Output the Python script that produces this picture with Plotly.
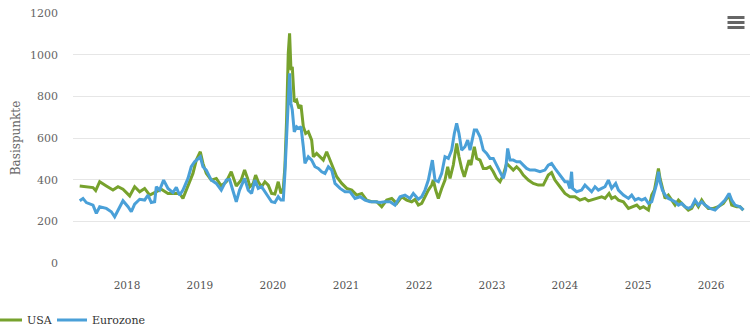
import datetime as dt
import plotly.graph_objects as go

# ---- data (decimal years, basis points) ----
usa_t = [2017.352, 2017.443, 2017.534, 2017.571, 2017.626, 2017.717, 2017.808, 2017.877, 2017.945,
         2018.037, 2018.105, 2018.174, 2018.242, 2018.311, 2018.402, 2018.470, 2018.562, 2018.630,
         2018.721, 2018.767, 2018.836, 2018.904, 2018.950, 2019.005, 2019.041, 2019.087, 2019.155,
         2019.224, 2019.292, 2019.361, 2019.429, 2019.498, 2019.566, 2019.612, 2019.653, 2019.685,
         2019.731, 2019.763, 2019.799, 2019.845, 2019.890, 2019.936, 2019.982, 2020.027, 2020.073,
         2020.110, 2020.142, 2020.164, 2020.187, 2020.210, 2020.228, 2020.247, 2020.265, 2020.292,
         2020.324, 2020.356, 2020.384, 2020.416, 2020.448, 2020.484, 2020.530, 2020.553, 2020.598,
         2020.644, 2020.689, 2020.735, 2020.781, 2020.826, 2020.872, 2020.941, 2021.009, 2021.078,
         2021.146, 2021.215, 2021.283, 2021.352, 2021.420, 2021.489, 2021.557, 2021.626, 2021.694,
         2021.763, 2021.831, 2021.900, 2021.945, 2021.991, 2022.037, 2022.082, 2022.128, 2022.174,
         2022.196, 2022.228, 2022.265, 2022.311, 2022.356, 2022.393, 2022.425, 2022.470, 2022.516,
         2022.548, 2022.584, 2022.621, 2022.653, 2022.685, 2022.712, 2022.758, 2022.790, 2022.836,
         2022.881, 2022.927, 2022.973, 2023.018, 2023.064, 2023.110, 2023.155, 2023.201, 2023.247,
         2023.292, 2023.338, 2023.384, 2023.429, 2023.498, 2023.566, 2023.635, 2023.703, 2023.772,
         2023.817, 2023.863, 2023.932, 2024.000, 2024.068, 2024.137, 2024.205, 2024.274, 2024.320,
         2024.365, 2024.434, 2024.502, 2024.548, 2024.603, 2024.639, 2024.685, 2024.731, 2024.799,
         2024.868, 2024.936, 2024.982, 2025.027, 2025.073, 2025.142, 2025.187, 2025.224, 2025.256,
         2025.279, 2025.301, 2025.333, 2025.370, 2025.415, 2025.461, 2025.507, 2025.553, 2025.598,
         2025.644, 2025.689, 2025.735, 2025.781, 2025.826, 2025.872, 2025.918, 2025.963, 2026.032,
         2026.100, 2026.169, 2026.215, 2026.247, 2026.283, 2026.352, 2026.397, 2026.443]
usa_v = [370, 365, 362, 348, 390, 370, 350, 366, 354,
         322, 366, 342, 358, 326, 342, 354, 334, 334,
         334, 310, 366, 430, 494, 534, 478, 430, 398,
         406, 370, 390, 438, 370, 398, 446, 406, 366,
         382, 422, 390, 366, 390, 374, 334, 331, 390,
         334, 358, 462, 686, 1006, 1102, 926, 942, 774,
         782, 742, 758, 654, 622, 630, 590, 510, 526,
         510, 494, 534, 494, 462, 414, 382, 358, 350,
         326, 334, 302, 294, 294, 270, 302, 310, 286,
         318, 302, 294, 305, 278, 286, 318, 350, 374,
         398, 350, 310, 358, 398, 462, 406, 470, 574,
         510, 454, 414, 462, 494, 470, 558, 502, 494,
         454, 454, 462, 438, 406, 390, 422, 478, 462,
         446, 462, 446, 422, 398, 382, 374, 374, 422,
         434, 398, 366, 334, 318, 318, 302, 310, 298,
         302, 310, 318, 310, 334, 310, 318, 302, 294,
         262, 270, 278, 262, 270, 254, 326, 350, 414,
         454, 406, 358, 310, 326, 302, 278, 302, 286,
         270, 254, 262, 294, 270, 302, 278, 262, 262,
         270, 286, 310, 326, 278, 270, 270, 254]

eur_t = [2017.352, 2017.397, 2017.443, 2017.534, 2017.580, 2017.626, 2017.717, 2017.785, 2017.831,
         2017.877, 2017.945, 2018.014, 2018.059, 2018.105, 2018.174, 2018.242, 2018.288, 2018.333,
         2018.379, 2018.402, 2018.447, 2018.502, 2018.562, 2018.630, 2018.676, 2018.721, 2018.767,
         2018.836, 2018.881, 2018.927, 2018.973, 2019.005, 2019.041, 2019.087, 2019.155, 2019.224,
         2019.292, 2019.361, 2019.406, 2019.452, 2019.498, 2019.543, 2019.612, 2019.662, 2019.708,
         2019.753, 2019.799, 2019.845, 2019.890, 2019.936, 2019.982, 2020.027, 2020.073, 2020.110,
         2020.142, 2020.164, 2020.187, 2020.210, 2020.228, 2020.247, 2020.265, 2020.292, 2020.324,
         2020.356, 2020.384, 2020.416, 2020.438, 2020.484, 2020.530, 2020.575, 2020.621, 2020.667,
         2020.712, 2020.758, 2020.804, 2020.849, 2020.918, 2020.986, 2021.055, 2021.123, 2021.192,
         2021.260, 2021.329, 2021.397, 2021.466, 2021.534, 2021.603, 2021.671, 2021.740, 2021.808,
         2021.877, 2021.922, 2021.991, 2022.037, 2022.082, 2022.128, 2022.183, 2022.219, 2022.265,
         2022.311, 2022.356, 2022.402, 2022.448, 2022.484, 2022.516, 2022.548, 2022.584, 2022.630,
         2022.667, 2022.699, 2022.758, 2022.790, 2022.836, 2022.881, 2022.927, 2022.973, 2023.018,
         2023.064, 2023.110, 2023.155, 2023.187, 2023.215, 2023.247, 2023.292, 2023.338, 2023.384,
         2023.429, 2023.475, 2023.521, 2023.589, 2023.658, 2023.726, 2023.772, 2023.817, 2023.863,
         2023.932, 2024.000, 2024.037, 2024.068, 2024.091, 2024.105, 2024.160, 2024.228, 2024.274,
         2024.320, 2024.365, 2024.411, 2024.457, 2024.502, 2024.548, 2024.594, 2024.639, 2024.694,
         2024.731, 2024.799, 2024.868, 2024.913, 2024.959, 2025.005, 2025.050, 2025.096, 2025.142,
         2025.187, 2025.233, 2025.256, 2025.279, 2025.301, 2025.333, 2025.370, 2025.415, 2025.461,
         2025.507, 2025.553, 2025.598, 2025.644, 2025.689, 2025.735, 2025.781, 2025.826, 2025.872,
         2025.918, 2025.986, 2026.055, 2026.100, 2026.146, 2026.192, 2026.247, 2026.283, 2026.329,
         2026.397, 2026.443]
eur_v = [299, 310, 290, 278, 238, 270, 262, 246, 222,
         254, 299, 270, 246, 283, 306, 302, 326, 290,
         294, 366, 350, 398, 358, 338, 363, 326, 350,
         406, 462, 486, 502, 510, 462, 446, 398, 382,
         350, 398, 401, 350, 294, 350, 406, 350, 334,
         398, 358, 366, 342, 318, 294, 290, 318, 302,
         302, 430, 606, 846, 910, 766, 734, 630, 654,
         646, 654, 558, 478, 510, 494, 462, 454, 438,
         430, 462, 446, 382, 358, 342, 342, 310, 318,
         302, 294, 294, 290, 294, 294, 278, 318, 326,
         310, 334, 306, 318, 350, 398, 494, 398, 390,
         430, 510, 502, 542, 622, 670, 622, 542, 558,
         590, 542, 638, 638, 606, 542, 526, 502, 502,
         470, 438, 406, 446, 550, 494, 494, 486, 486,
         470, 454, 446, 446, 438, 446, 470, 478, 454,
         422, 390, 390, 358, 438, 358, 342, 350, 374,
         358, 342, 366, 350, 358, 366, 398, 358, 382,
         350, 326, 310, 326, 302, 310, 302, 310, 286,
         294, 350, 382, 438, 390, 350, 326, 310, 302,
         294, 278, 286, 270, 262, 270, 302, 278, 294,
         278, 262, 254, 270, 286, 302, 334, 302, 278,
         270, 254]

x_range_years = [2017.260, 2026.534]
y_ticks = [0, 200, 400, 600, 800, 1000, 1200]
series_names = ["USA", "Eurozone"]
series_colors = ["#77a22d", "#4aa0d8"]


def to_date(y):
    year = int(y)
    start = dt.datetime(year, 1, 1)
    end = dt.datetime(year + 1, 1, 1)
    return start + (end - start) * (y - year)


FONT = "DejaVu Serif"
fig = go.Figure()
for name, color, t, v, lg in [(series_names[0], series_colors[0], usa_t, usa_v, "legend"),
                              (series_names[1], series_colors[1], eur_t, eur_v, "legend2")]:
    fig.add_trace(go.Scatter(x=[to_date(a) for a in t], y=v, mode="lines", name=name,
                             line=dict(color=color, width=3), hoverinfo="x+y", legend=lg))

W, H = 750, 332
L, R, T, B = 73, 0, 13, 69
pw = W - L - R
ph = H - T - B


def px(xp):
    return (xp - L) / pw


def py(yp):
    return (H - B - yp) / ph


shapes = [
    dict(type="rect", xref="paper", yref="paper", x0=px(722), x1=px(750), y0=py(16), y1=py(9),
         fillcolor="white", line=dict(width=0), layer="below"),
]
for yb in (17.5, 22.5, 27.5):
    shapes.append(dict(type="line", xref="paper", yref="paper", x0=px(727.5), x1=px(744.5),
                       y0=py(yb), y1=py(yb), line=dict(color="#666666", width=3), layer="above"))

legend_style = dict(orientation="h", xanchor="left", yanchor="middle",
                    font=dict(family=FONT, size=11, color="#333333"),
                    bgcolor="rgba(0,0,0,0)")

fig.update_layout(
    width=W, height=H,
    margin=dict(l=L, r=R, t=T, b=B, autoexpand=False),
    paper_bgcolor="white", plot_bgcolor="white",
    font=dict(family=FONT, color="#333333"),
    showlegend=True,
    legend=dict(x=px(-13), y=py(320), **legend_style),
    legend2=dict(x=px(52), y=py(320), **legend_style),
    xaxis=dict(type="date", range=[to_date(x_range_years[0]), to_date(x_range_years[1])],
               tickformat="%Y", dtick="M12", tick0="2018-01-01", showgrid=False, zeroline=False,
               showline=False, ticks="", tickfont=dict(family=FONT, size=10.5, color="#555555"),
               ticklabelstandoff=14),
    yaxis=dict(range=[0, 1200], tickvals=y_ticks, showgrid=True, gridcolor="#e6e6e6", gridwidth=1,
               zeroline=False, showline=False, ticks="",
               tickfont=dict(family=FONT, size=11, color="#666666"), ticklabelstandoff=14,
               title=dict(text="Basispunkte", font=dict(family=FONT, size=12, color="#666666"),
                          standoff=6)),
    shapes=shapes,
)

fig.write_html("out.html")
